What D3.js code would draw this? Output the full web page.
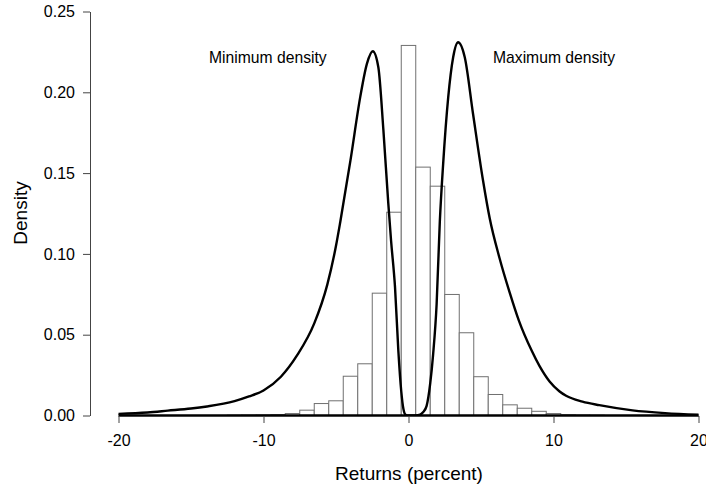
<!DOCTYPE html>
<html>
<head>
<meta charset="utf-8">
<script src="https://cdn.jsdelivr.net/npm/d3@7"></script>
<style>
  body { margin: 0; background: #fff; }
  svg text { font-family: "Liberation Sans", Arial, sans-serif; }
</style>
</head>
<body>
<div id="chart"></div>
<script>
    var w = 706
    var h = 489

    // histogram bins (centre of each 1-point bin) and heights
    var binCenters = [-12, -11, -10, -9, -8, -7, -6, -5, -4, -3, -2, -1, 0, 1, 2, 3, 4, 5, 6, 7, 8, 9, 10, 11, 12, 13]
    var binDensity = [0.0002, 0.0003, 0.0004, 0.0006, 0.0012, 0.0033, 0.0074, 0.0091, 0.0243, 0.032, 0.0757, 0.1258, 0.229,
                      0.1537, 0.1419, 0.0749, 0.0512, 0.024, 0.013, 0.0066, 0.0045, 0.0026, 0.0012, 0.0005, 0.0003, 0.0002]

    // minimum density curve
    var minX = [-20, -18, -16.6, -15, -13.9, -12, -11, -10, -8.8, -7.7, -6.5, -5.6, -5.0, -4.7, -4.0, -3.33, -2.87,
                -2.46, -2.08, -1.73, -1.4, -1.2, -0.93, -0.7, -0.5, -0.35, -0.2, 0, 20]
    var minY = [0.001, 0.0019, 0.003, 0.0043, 0.0056, 0.0089, 0.0118, 0.0155, 0.024, 0.037, 0.057, 0.081, 0.105, 0.12, 0.158, 0.197, 0.2176,
                0.2254, 0.2155, 0.1764, 0.132, 0.108, 0.0794, 0.04, 0.015, 0.004, 0.0005, 0, 0]

    // maximum density curve
    var maxX = [-20, 0.5, 0.8, 1.0, 1.25, 1.5, 1.7, 1.94, 2.16, 2.39, 2.74, 3.08, 3.42, 3.88, 4.45, 5.14, 5.6, 6.29, 6.98, 7.6,
                8.5, 9.04, 9.73, 10.4, 10.87, 12, 13.16, 15.45, 17.7, 20]
    var maxY = [0, 0, 0.0005, 0.002, 0.006, 0.02, 0.038, 0.069, 0.12, 0.1557, 0.197, 0.2217, 0.231, 0.2217, 0.1867, 0.1454, 0.122, 0.097, 0.076, 0.059,
                0.04, 0.0305, 0.021, 0.015, 0.0122, 0.0086, 0.0064, 0.0032, 0.0015, 0.0005]

    var xTicks = [-20, -10, 0, 10, 20]
    var yTicks = [0, 0.05, 0.10, 0.15, 0.20, 0.25]

    var svg = d3.select("#chart").append("svg").attr("width", w).attr("height", h)

    var x = d3.scaleLinear().domain([-20, 20]).range([118.5, 698.5])
    var y = d3.scaleLinear().domain([0, 0.25]).range([415.5, 11.5])

    // bars
    svg.selectAll("rect.bin")
        .data(binCenters)
        .enter()
        .append("rect")
        .attr("class", "bin")
        .attr("x", function(d) { return x(d - 0.5) })
        .attr("width", function(d) { return x(d + 0.5) - x(d - 0.5) })
        .attr("y", function(d, i) { return y(binDensity[i]) })
        .attr("height", function(d, i) { return y(0) - y(binDensity[i]) })
        .attr("fill", "#fff")
        .attr("stroke", "#707070")
        .attr("stroke-width", 1)

    // curves
    var line = d3.line()
        .x(function(d) { return x(d[0]) })
        .y(function(d) { return y(d[1]) })
        .curve(d3.curveMonotoneX)

    function drawCurve(xs, ys) {
        svg.append("path")
            .datum(d3.zip(xs, ys))
            .attr("d", line)
            .attr("fill", "none")
            .attr("stroke", "#000")
            .attr("stroke-width", 2.4)
            .attr("stroke-linejoin", "round")
    }
    drawCurve(minX, minY)
    drawCurve(maxX, maxY)

    // axes
    svg.append("g")
        .attr("transform", "translate(0,416)")
        .call(d3.axisBottom(x).tickValues(xTicks).tickFormat(function(d) { return String(d) })
            .tickSize(7).tickSizeOuter(0).tickPadding(12))
    svg.append("g")
        .attr("transform", "translate(90,0)")
        .call(d3.axisLeft(y).tickValues(yTicks).tickFormat(d3.format(".2f")).tickSize(7).tickSizeOuter(0).tickPadding(8))

    svg.selectAll(".domain, .tick line").attr("stroke", "#444")
    svg.selectAll(".tick text").attr("font-size", 16).attr("fill", "#000").style("font-family", "Liberation Sans, Arial, sans-serif")

    // labels
    svg.append("text")
        .text("Minimum density")
        .attr("x", 209).attr("y", 63)
        .attr("font-size", 15.7)

    svg.append("text")
        .text("Maximum density")
        .attr("x", 493).attr("y", 63)
        .attr("font-size", 15.7)

    svg.append("text")
        .text("Returns (percent)")
        .attr("x", 409).attr("y", 480)
        .attr("text-anchor", "middle")
        .attr("font-size", 19)

    svg.append("text")
        .text("Density")
        .attr("transform", "translate(27,213) rotate(-90)")
        .attr("text-anchor", "middle")
        .attr("font-size", 19)
</script>
</body>
</html>
